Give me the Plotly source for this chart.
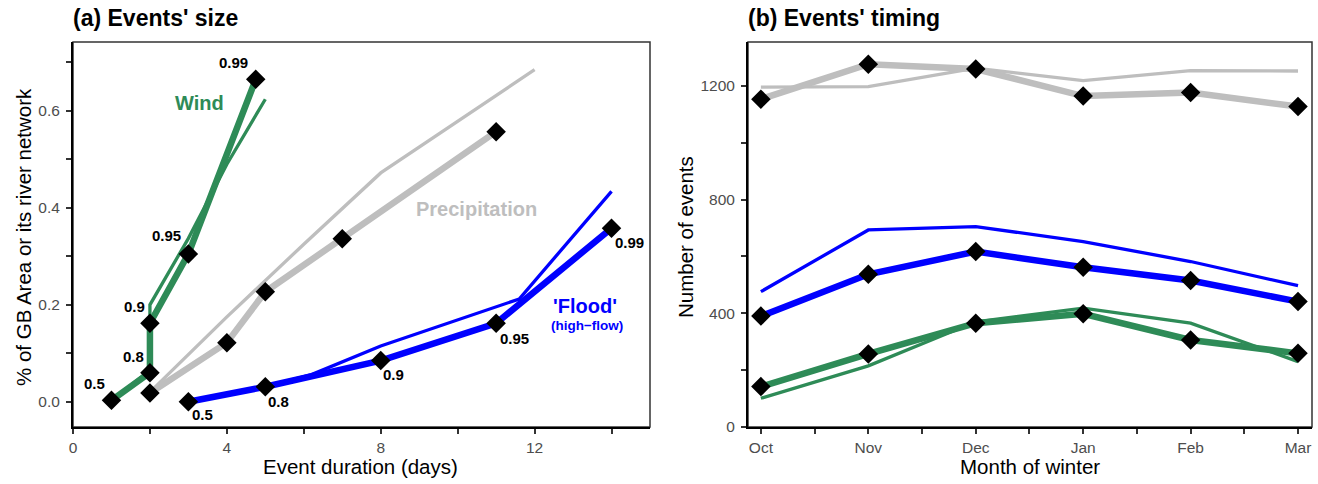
import plotly.graph_objects as go

# ---------------- Panel (a): Events' size ----------------
wind_x = [1, 2, 2, 3, 4.75]
wind_y = [0.003, 0.06, 0.162, 0.305, 0.665]
wind_thin_x = [1, 2, 2, 3, 4, 5]
wind_thin_y = [0.003, 0.065, 0.2, 0.337, 0.49, 0.624]
wind_q = ["0.5", "0.8", "0.9", "0.95", "0.99"]

precip_x = [2, 4, 5, 7, 11]
precip_y = [0.018, 0.122, 0.227, 0.336, 0.557]
precip_thin_x = [2, 4, 6, 8, 12]
precip_thin_y = [0.02, 0.175, 0.325, 0.472, 0.685]

flood_x = [3, 5, 8, 11, 14]
flood_y = [0.0, 0.031, 0.085, 0.162, 0.358]
flood_thin_x = [3, 5, 6.2, 8, 11.6, 14]
flood_thin_y = [0.0, 0.031, 0.056, 0.115, 0.212, 0.434]
flood_q = ["0.5", "0.8", "0.9", "0.95", "0.99"]

# ---------------- Panel (b): Events' timing ----------------
months = ["Oct", "Nov", "Dec", "Jan", "Feb", "Mar"]
precip_m = [1153, 1276, 1259, 1164, 1176, 1127]
precip_m_thin = [1195, 1197, 1262, 1218, 1253, 1252]
flood_m = [390, 537, 617, 562, 515, 441]
flood_m_thin = [476, 693, 705, 652, 582, 497]
wind_m = [142, 257, 365, 398, 306, 259]
wind_m_thin = [101, 215, 370, 418, 365, 230]

GREEN = "#2E8B57"
GREY = "#BEBEBE"
BLUE = "#0000FF"
THICK = 6.5
THIN = 3.3
FONT = "Liberation Sans, Arial, Helvetica, sans-serif"

fig = go.Figure()

def line(x, y, color, width, xa, ya):
    fig.add_trace(go.Scatter(x=x, y=y, mode="lines", line=dict(color=color, width=width),
                             xaxis=xa, yaxis=ya, showlegend=False, hoverinfo="skip"))

def pts(x, y, xa, ya):
    fig.add_trace(go.Scatter(x=x, y=y, mode="markers",
                             marker=dict(symbol="diamond", size=15, color="black", line=dict(width=0)),
                             xaxis=xa, yaxis=ya, showlegend=False, hoverinfo="skip"))

# panel a lines
line(precip_thin_x, precip_thin_y, GREY, THIN, "x", "y")
line(precip_x, precip_y, GREY, THICK, "x", "y")
line(flood_thin_x, flood_thin_y, BLUE, THIN, "x", "y")
line(flood_x, flood_y, BLUE, THICK, "x", "y")
line(wind_thin_x, wind_thin_y, GREEN, THIN, "x", "y")
line(wind_x, wind_y, GREEN, THICK, "x", "y")
pts(precip_x, precip_y, "x", "y")
pts(flood_x, flood_y, "x", "y")
pts(wind_x, wind_y, "x", "y")

# panel b lines
mi = list(range(len(months)))
line(mi, precip_m_thin, GREY, THIN, "x2", "y2")
line(mi, precip_m, GREY, THICK, "x2", "y2")
line(mi, flood_m_thin, BLUE, THIN, "x2", "y2")
line(mi, flood_m, BLUE, THICK, "x2", "y2")
line(mi, wind_m_thin, GREEN, THIN, "x2", "y2")
line(mi, wind_m, GREEN, THICK, "x2", "y2")
pts(mi, precip_m, "x2", "y2")
pts(mi, flood_m, "x2", "y2")
pts(mi, wind_m, "x2", "y2")

ann = []
wind_off = [(-17, 17), (-16, 16), (-15, 17), (-22, 18), (-22, 17)]
for xv, yv, q, (dx, dy) in zip(wind_x, wind_y, wind_q, wind_off):
    ann.append(dict(x=xv, y=yv, xref="x", yref="y", text=q, showarrow=False,
                    xanchor="center", yanchor="middle",
                    xshift=dx, yshift=dy, font=dict(family=FONT, size=15, color="black", weight="bold")))
flood_off = [(14, -13), (13, -15), (13, -14), (18, -15), (18, -14)]
for xv, yv, q, (dx, dy) in zip(flood_x, flood_y, flood_q, flood_off):
    ann.append(dict(x=xv, y=yv, xref="x", yref="y", text=q, showarrow=False,
                    xanchor="center", yanchor="middle",
                    xshift=dx, yshift=dy, font=dict(family=FONT, size=15, color="black", weight="bold")))

C = dict(xanchor="center", yanchor="middle", showarrow=False)
ann += [
    dict(x=3.3, y=0.616, xref="x", yref="y", text="Wind",
         font=dict(family=FONT, size=20, color=GREEN, weight="bold"), **C),
    dict(x=10.5, y=0.397, xref="x", yref="y", text="Precipitation",
         font=dict(family=FONT, size=20, color=GREY, weight="bold"), **C),
    dict(x=13.3, y=0.198, xref="x", yref="y", text="'Flood'",
         font=dict(family=FONT, size=20, color=BLUE, weight="bold"), **C),
    dict(x=13.35, y=0.158, xref="x", yref="y", text="(high\u2212flow)",
         font=dict(family=FONT, size=13.5, color=BLUE, weight="bold"), **C),
    dict(x=71 / 1318, y=1 - 18 / 484, xref="paper", yref="paper", text="(a) Events' size",
         showarrow=False, xanchor="left", yanchor="middle",
         font=dict(family=FONT, size=23, color="black", weight="bold")),
    dict(x=746 / 1318, y=1 - 18 / 484, xref="paper", yref="paper", text="(b) Events' timing",
         showarrow=False, xanchor="left", yanchor="middle",
         font=dict(family=FONT, size=23, color="black", weight="bold")),
    dict(x=361 / 1318, y=1 - 466 / 484, xref="paper", yref="paper", text="Event duration (days)",
         font=dict(family=FONT, size=20.5, color="black"), **C),
    dict(x=1030 / 1318, y=1 - 466 / 484, xref="paper", yref="paper", text="Month of winter",
         font=dict(family=FONT, size=20.5, color="black"), **C),
    dict(x=23 / 1318, y=1 - 237 / 484, xref="paper", yref="paper", text="% of GB Area or its river network",
         textangle=-90, font=dict(family=FONT, size=20.5, color="black"), **C),
    dict(x=685 / 1318, y=1 - 237 / 484, xref="paper", yref="paper", text="Number of events",
         textangle=-90, font=dict(family=FONT, size=20.5, color="black"), **C),
]

tickfont = dict(family=FONT, size=15.5, color="#4D4D4D")
axcommon = dict(showgrid=False, zeroline=False, showline=True, linecolor="black", linewidth=2,
                ticks="outside", ticklen=5, tickwidth=1.5, tickcolor="#333333", tickfont=tickfont,
                automargin=False)
minor_common = dict(ticks="outside", ticklen=5, tickwidth=1.5, tickcolor="#333333")

ydom = [1 - 427 / 484, 1 - 42 / 484]
fig.update_layout(
    width=1318, height=484, margin=dict(l=0, r=0, t=0, b=0, autoexpand=False),
    paper_bgcolor="white", plot_bgcolor="white", showlegend=False,
    xaxis=dict(domain=[73 / 1318, 650 / 1318], range=[0, 15], tick0=0, dtick=4, anchor="y",
               minor=dict(dtick=2, tick0=0, **minor_common), **axcommon),
    yaxis=dict(domain=ydom, range=[-0.052, 0.742], tick0=0, dtick=0.2, tickformat=".1f", anchor="x",
               ticklabelstandoff=3, minor=dict(dtick=0.1, tick0=0, **minor_common), **axcommon),
    xaxis2=dict(domain=[748 / 1318, 1312 / 1318], range=[-0.12, 5.13], tickvals=mi, ticktext=months,
                anchor="y2",
                minor=dict(tickvals=[0.5, 1.5, 2.5, 3.5, 4.5], **minor_common), **axcommon),
    yaxis2=dict(domain=ydom, range=[0, 1354], tick0=0, dtick=400, anchor="x2", ticklabelstandoff=3,
                minor=dict(dtick=200, tick0=0, **minor_common), **axcommon),
    annotations=ann,
    shapes=[
        dict(type="rect", xref="x domain", yref="y domain", x0=0, x1=1, y0=0, y1=1,
             line=dict(color="#333333", width=1.5), layer="below"),
        dict(type="rect", xref="x2 domain", yref="y2 domain", x0=0, x1=1, y0=0, y1=1,
             line=dict(color="#333333", width=1.5), layer="below"),
    ],
)

fig.write_html("out.html")
